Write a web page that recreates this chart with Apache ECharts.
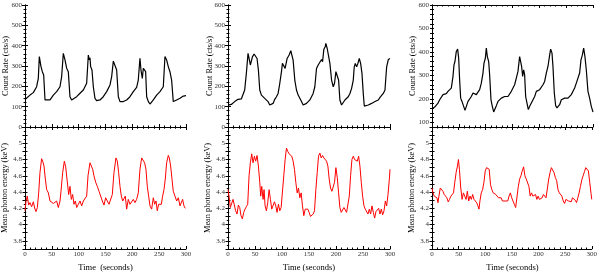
<!DOCTYPE html>
<html><head><meta charset="utf-8">
<script src="https://cdn.jsdelivr.net/npm/echarts@6/dist/echarts.min.js"></script>
<style>html,body{margin:0;padding:0;background:#fff}#c{width:600px;height:274px}</style>
</head><body><div id="c"></div>
<script>
// ---- data (time in seconds, count rate in cts/s, energy in keV) ----
const rate1T=[0,9.3,15.5,18.6,21.7,24.8,26.7,28.6,29.8,32.3,34.8,37.3,40.4,46.6,52.8,59,65.2,68.3,71.4,74.5,77.6,80.7,83.8,86.9,90,96.3,102.5,108.7,114.9,118,119.9,121.1,122.3,124.8,127.3,130.4,133.5,139.7,145.9,152.2,158.4,161.5,164.6,167.7,170.8,173.9,177,183.2,189.4,195.6,201.8,204.9,208,211.1,214.2,216.1,218.6,220.5,222.3,224.8,226.7,229.8,232.9,239.1,245.3,251.5,257.7,260.8,262.7,263.9,267,270.1,273.2,276.3,279.5,282.6,288.8,295,300];
const rate1=[135,157,169,174,198,239,346,340,297,272,256,133,125,133,157,174,198,248,362,330,289,272,149,133,125,149,166,182,215,354,330,340,297,280,198,141,130,133,149,174,207,248,324,315,280,149,125,125,133,149,174,172,195,231,338,280,239,289,297,272,149,125,113,133,157,174,198,346,352,330,297,272,231,125,116,133,141,152,154];

const energy1T=[0,1.9,4.3,6.8,9.3,12.4,15.5,18.6,20.5,23,25.5,27.9,31,32.9,35.4,37.9,40.4,43.5,46.6,49.7,52.8,55.9,59,62.1,65.2,67.1,70.2,73.3,75.8,78.9,81.4,83.8,86.3,88.8,91.3,93.8,96.3,99.4,102.5,105.6,108.7,111.8,114.9,117.4,121.1,123.6,126.1,128.5,131.7,134.8,137.9,141,144.1,147.2,150.3,153.4,156.5,159.6,162.7,165.8,169.5,172,174.5,177,179.5,182,184.4,186.9,189.4,192.5,195.6,198.7,201.8,204.9,208,211.1,214.2,217.4,220.5,222.9,225.4,227.9,230.4,232.9,236,239.1,241.6,244.1,246.5,249,251.5,254,256.5,259,261.4,263.9,267,268.9,271.4,273.9,276.3,279.5,282.6,285.7,288.8,291.3,293.7,296.2,298.7,300];
const energy1=[4.17,4.29,4.35,4.24,4.27,4.22,4.28,4.19,4.16,4.21,4.39,4.64,4.81,4.78,4.72,4.56,4.43,4.39,4.29,4.31,4.26,4.24,4.29,4.21,4.29,4.41,4.64,4.78,4.71,4.70,4.37,4.47,4.31,4.37,4.25,4.29,4.21,4.25,4.29,4.23,4.29,4.31,4.35,4.60,4.76,4.78,4.68,4.60,4.52,4.47,4.41,4.35,4.29,4.24,4.33,4.29,4.25,4.27,4.37,4.64,4.82,4.78,4.64,4.47,4.35,4.29,4.27,4.35,4.19,4.31,4.25,4.23,4.31,4.27,4.31,4.39,4.68,4.82,4.84,4.76,4.68,4.47,4.35,4.23,4.19,4.33,4.25,4.29,4.17,4.25,4.23,4.25,4.35,4.43,4.56,4.76,4.85,4.82,4.72,4.56,4.41,4.35,4.29,4.33,4.23,4.21,4.31,4.23,4.20,4.2];

const rate2T=[0,6.2,9.3,12.4,15.5,18.6,21.7,24.7,27.8,30.9,34,37.1,39,41.4,43.3,45.2,48.3,51.3,53.8,56.3,58.8,61.9,65,68,71.1,74.2,77.3,80.4,83.5,86.6,89.7,92.8,95.9,99,100.8,103.3,105.8,109.5,113.2,116.3,118.8,120.6,123.7,126.8,129.9,133,136.1,139.2,142.3,145.4,148.5,151.6,154.7,157.7,160.8,163.9,167,170.1,173.2,175.1,177.5,180,181.2,183.7,186.2,188.7,191.8,194.9,197.3,199.8,202.3,204.8,207.2,210.3,213.4,216.5,219.6,222.7,225.8,228.9,232,233.8,235.7,238.2,240.6,243.1,245.6,248.1,250.5,252.4,254.9,259.8,266,272.2,278.4,281.5,284.6,287.6,290.7,293.8,296.9,300];
const rate2=[108,111,120,125,129,136,141,138,146,182,264,362,337,305,300,345,359,354,337,280,182,157,149,141,136,125,108,108,116,136,149,165,215,272,313,305,288,337,354,375,370,329,231,182,157,141,125,108,100,116,125,133,141,165,198,288,305,313,332,321,382,395,411,386,378,313,231,198,215,272,280,231,133,108,116,133,141,149,165,190,231,296,313,296,313,337,313,264,165,103,100,108,116,125,133,146,149,165,182,296,332,337];

const energy2T=[0,1.9,4.3,6.8,9.3,11.8,14.2,16.7,19.2,21.7,24.1,26.6,29.1,31.5,34,36.5,39,41.4,43.9,46.4,48.9,51.3,53.8,56.3,58.8,60.6,62.5,65,66.8,68.7,71.1,73.6,76.1,78.6,81,83.5,86,88.5,90.9,93.4,95.9,98.4,100.8,103.3,105.8,108.3,110.7,113.2,115.7,118.2,120.6,123.1,125.6,128.1,130.5,133,135.5,137.9,140.4,142.9,145.4,147.8,150.3,152.8,155.3,157.7,160.2,162.7,165.2,167.6,170.1,172.6,175.1,177.5,180,182.5,185,187.4,189.9,192.4,194.9,197.3,199.8,202.3,204.8,207.2,209.7,212.2,214.7,217.1,219.6,222.1,224.6,227,229.5,232,234.5,236.9,239.4,241.9,244.3,246.8,249.3,251.8,254.2,256.7,259.2,261.7,264.1,266.6,269.1,271.6,274,276.5,279,281.5,283.9,286.4,288.9,291.4,293.8,296.3,298.8,300];
const energy2=[4.43,4.35,4.21,4.20,4.31,4.29,4.17,4.13,4.24,4.21,4.11,4.07,4.15,4.19,4.22,4.25,4.60,4.76,4.87,4.76,4.84,4.78,4.85,4.72,4.52,4.35,4.47,4.31,4.43,4.23,4.17,4.27,4.43,4.31,4.19,4.17,4.28,4.23,4.15,4.25,4.17,4.21,4.23,4.60,4.80,4.94,4.90,4.87,4.86,4.84,4.78,4.68,4.52,4.39,4.45,4.33,4.39,4.23,4.11,4.19,4.17,4.19,4.15,4.10,4.08,4.13,4.17,4.43,4.64,4.84,4.88,4.82,4.85,4.82,4.84,4.78,4.72,4.56,4.45,4.41,4.43,4.52,4.70,4.58,4.39,4.21,4.15,4.17,4.21,4.19,4.15,4.17,4.35,4.60,4.80,4.84,4.80,4.82,4.78,4.84,4.72,4.52,4.35,4.23,4.19,4.21,4.13,4.19,4.13,4.23,4.15,4.08,4.16,4.17,4.20,4.13,4.19,4.12,4.17,4.29,4.23,4.37,4.56,4.68];

const rate3T=[0,5,8.1,11.2,14.3,17.4,20.5,23.6,26.7,29.8,32.9,36,39.1,41,42.8,45.3,47.8,49.7,51.5,53.4,55.9,59,61.5,64,67.1,70.2,73.3,76.4,79.5,82.6,85.7,88.8,91.9,95,96.9,99.4,101.2,103.1,105.6,107.4,109.9,112.4,114.9,117.4,119.9,123,126.1,129.2,132.3,135.4,138.5,141.6,144.7,147.8,150.9,154,157.1,160.2,163.3,165.2,167,168.9,170.8,172.6,174.5,177,179.5,182,185.1,188.2,191.3,194.4,197.5,200.6,203.7,206.8,209.9,213,216.1,219.2,221.1,223.6,225.4,227.9,230.4,232.9,235.4,237.8,241,244,247.2,250.3,253.4,256.5,259.6,262.7,265.8,268.9,272,275.1,277.6,280.1,282.6,285,287.5,290.6,293.7,296.8,300];
const rate3=[157,165,171,182,196,203,218,210,222,232,232,246,296,345,359,402,412,373,281,203,189,168,151,168,189,196,210,225,232,218,210,239,267,310,352,373,416,380,359,303,196,168,144,147,171,189,196,203,210,210,208,210,218,232,239,260,288,317,380,359,338,296,324,303,210,182,154,168,182,196,210,232,225,239,246,260,274,310,338,386,412,395,338,225,171,161,165,175,196,199,203,208,203,196,218,232,246,267,274,310,366,386,416,380,324,232,203,168,144];

const energy3T=[0,1.9,4.3,6.8,9.3,11.2,13,15.5,18,20.5,23,25.5,27.9,30.4,32.9,35.4,37.9,40.4,42.8,45.3,47.8,49.7,51.5,54,56.5,59,61.5,64,66.4,68.9,71.4,73.9,76.4,78.9,81.4,83.8,86.3,88.2,90,92.5,95,97.5,100,102.5,104.9,107.4,109.9,112.4,114.9,117.4,119.9,122.3,124.8,127.3,129.8,132.3,134.8,137.2,139.7,142.2,144.7,147.2,149.7,152.1,154.6,157.1,159.6,162.1,164.6,167,169.5,172,174.5,177,179.5,182,184.4,186.9,189.4,191.9,194.4,196.9,199.3,201.8,204.3,206.8,209.3,211.8,214.2,216.7,219.2,221.7,224.2,226.7,229.1,231.6,234.1,236.6,239.1,241.6,244,246.5,249,251.5,254,256.5,258.9,261.4,263.9,266.4,268.9,271.4,273.9,276.3,278.8,281.3,283.8,286.3,288.8,291.2,293.7,296.2,298.7,300];
const energy3=[4.45,4.39,4.35,4.37,4.33,4.27,4.35,4.45,4.43,4.41,4.37,4.35,4.33,4.28,4.31,4.35,4.37,4.39,4.52,4.64,4.72,4.80,4.68,4.45,4.31,4.39,4.35,4.31,4.41,4.29,4.35,4.31,4.37,4.31,4.33,4.27,4.23,4.19,4.29,4.39,4.43,4.52,4.66,4.70,4.71,4.68,4.49,4.43,4.39,4.41,4.37,4.35,4.33,4.32,4.33,4.29,4.31,4.29,4.31,4.29,4.35,4.39,4.33,4.29,4.25,4.21,4.19,4.47,4.56,4.60,4.66,4.71,4.60,4.56,4.58,4.47,4.35,4.39,4.35,4.37,4.37,4.31,4.35,4.31,4.29,4.33,4.37,4.39,4.33,4.35,4.56,4.64,4.70,4.69,4.64,4.58,4.54,4.43,4.39,4.37,4.35,4.29,4.26,4.31,4.33,4.29,4.31,4.28,4.33,4.31,4.30,4.27,4.33,4.39,4.47,4.55,4.60,4.65,4.70,4.72,4.66,4.52,4.38,4.31];

const rateTitle='Count Rate (cts/s)';
const energyTitle='Mean photon energy (keV)';
const timeTitles=['Time  (seconds)','Time (seconds)','Time (seconds)'];

// ---- layout ----
const FONT='Liberation Serif';
const cols=[{left:25,width:161,title:6,},{left:228,width:162,title:209.5},{left:432,width:161,title:413}];
const TOP=5, H=122;
const grids=[];
cols.forEach(c=>{
  grids.push({left:c.left,top:TOP,width:c.width,height:H});
  grids.push({left:c.left,top:TOP+H,width:c.width,height:H});
});
const zip=(t,v)=>t.map((x,i)=>[x,v[i]]);
const tickStyle={color:'#000',width:1};
const lbl={fontFamily:FONT,fontSize:7,color:'#333'};

const xAxis=[], yAxis=[];
grids.forEach((g,gi)=>{
  const bottom = gi%2===1;
  const baseX={type:'value',gridIndex:gi,min:0,max:300,interval:50,splitLine:{show:false},
    axisLine:{show:true,lineStyle:{color:'#000',width:1}},
    axisTick:{show:true,inside:true,length:3,lineStyle:tickStyle},
    minorTick:{show:true,splitNumber:5,length:1.5,lineStyle:tickStyle}};
  xAxis.push(Object.assign({},baseX,{position:'bottom',axisLabel:Object.assign({show:bottom,margin:2},lbl)}));
  xAxis.push(Object.assign({},baseX,{position:'top',axisLabel:{show:false}}));
  let yb;
  if(bottom){
    yb={min:3.7,max:5.2,interval:0.1,
      axisTick:{show:true,inside:true,length:2.5,lineStyle:tickStyle},
      minorTick:{show:true,splitNumber:2,length:1.2,lineStyle:tickStyle},
      fmt:v=>{const r=Math.round(v*10);return (r%2===0&&r>=38&&r<=50)?String(r/10):'';}};
  } else if(gi===4){
    yb={min:80,max:600,interval:20,
      axisTick:{show:true,inside:true,length:2,lineStyle:tickStyle},
      minorTick:{show:false},
      fmt:v=>{const r=Math.round(v);return r%100===0?String(r):'';}};
  } else {
    yb={min:0,max:600,interval:100,
      axisTick:{show:true,inside:true,length:3,lineStyle:tickStyle},
      minorTick:{show:true,splitNumber:5,length:1.5,lineStyle:tickStyle},
      fmt:v=>String(Math.round(v))};
  }
  const baseY={type:'value',gridIndex:gi,min:yb.min,max:yb.max,interval:yb.interval,splitLine:{show:false},
    axisLine:{show:true,lineStyle:{color:'#000',width:1}},axisTick:yb.axisTick,minorTick:yb.minorTick};
  yAxis.push(Object.assign({},baseY,{position:'left',axisLabel:Object.assign({show:true,margin:3,formatter:yb.fmt,showMinLabel:true,showMaxLabel:true},lbl)}));
  yAxis.push(Object.assign({},baseY,{position:'right',axisLabel:{show:false}}));
});

const seriesDefs=[[rate1T,rate1,'#000'],[energy1T,energy1,'#ff0000'],[rate2T,rate2,'#000'],[energy2T,energy2,'#ff0000'],[rate3T,rate3,'#000'],[energy3T,energy3,'#ff0000']];
const series=seriesDefs.map((s,i)=>({type:'line',xAxisIndex:2*i,yAxisIndex:2*i,data:zip(s[0],s[1]),
  symbol:'none',showSymbol:false,lineStyle:{color:s[2],width:s[2]==='#000'?1.2:1},itemStyle:{color:s[2]},silent:true,z:1}));

const graphic=[];
cols.forEach((c,ci)=>{
  graphic.push({type:'text',x:c.title,y:TOP+H/2,rotation:Math.PI/2,style:{text:rateTitle,font:'8.3px "Liberation Serif"',fill:'#000',align:'center',verticalAlign:'middle'}});
  graphic.push({type:'text',x:c.title-1.2,y:TOP+H+H/2,rotation:Math.PI/2,style:{text:energyTitle,font:'8.3px "Liberation Serif"',fill:'#000',align:'center',verticalAlign:'middle'}});
  graphic.push({type:'text',x:c.left+c.width/2,y:268,style:{text:timeTitles[ci],font:'8.5px "Liberation Serif"',fill:'#000',align:'center',verticalAlign:'middle'}});
});

const chart=echarts.init(document.getElementById('c'),null,{renderer:'canvas'});
chart.setOption({animation:false,backgroundColor:'#fff',grid:grids,xAxis,yAxis,series,graphic});
</script></body></html>
